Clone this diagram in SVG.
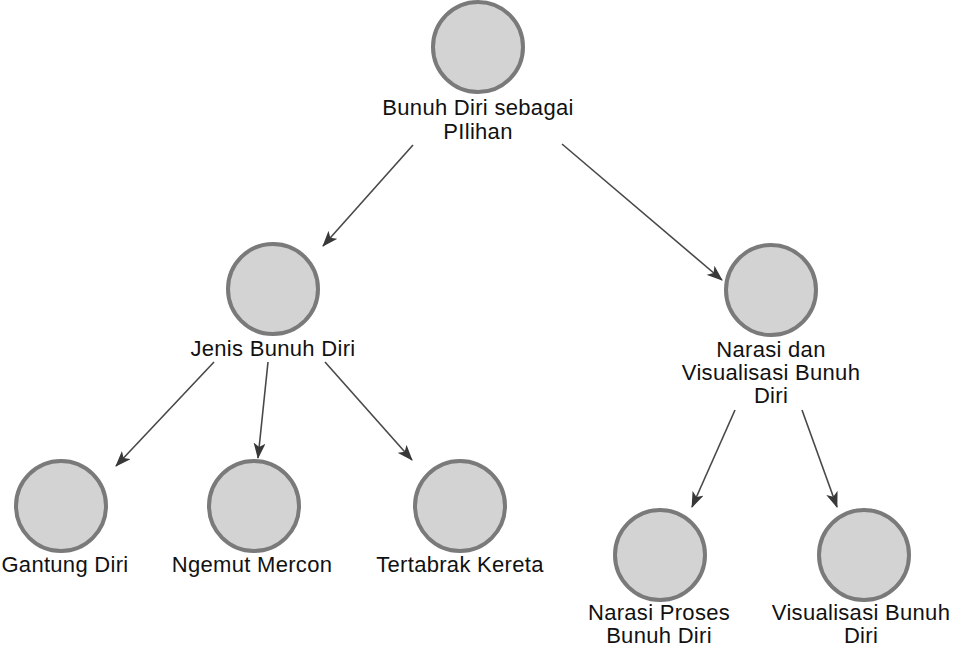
<svg xmlns="http://www.w3.org/2000/svg" width="953" height="650" viewBox="0 0 953 650">
<style>
.n{fill:#d3d3d3;stroke:#7a7a7a;stroke-width:4}
.t{font-family:"Liberation Sans",Arial,sans-serif;font-size:22px;letter-spacing:0.3px;fill:#111;text-anchor:middle}
.e{stroke:#484848;stroke-width:1.6;fill:none;marker-end:url(#a)}
</style>
<defs>
<marker id="a" markerUnits="userSpaceOnUse" viewBox="0 0 16 12" refX="15" refY="6" markerWidth="16" markerHeight="12" orient="auto">
<path d="M0,0 L16,6 L0,12 L4,6 z" fill="#383838"/>
</marker>
</defs>
<rect width="953" height="650" fill="#fff"/>
<g id="edges">
<line class="e" x1="413" y1="145" x2="323" y2="246"/>
<line class="e" x1="562" y1="144" x2="722" y2="280"/>
<line class="e" x1="214" y1="362" x2="116" y2="466"/>
<line class="e" x1="268" y1="362" x2="258" y2="458"/>
<line class="e" x1="325" y1="362" x2="412" y2="460"/>
<line class="e" x1="735" y1="410" x2="692" y2="507"/>
<line class="e" x1="802" y1="410" x2="837" y2="507"/>
</g>
<g id="n1"><circle class="n" cx="478" cy="47" r="45"/><text class="t" x="478" y="115">Bunuh Diri sebagai</text><text class="t" x="478" y="139">PIlihan</text></g>
<g id="n2"><circle class="n" cx="273" cy="289" r="45"/><text class="t" x="273" y="356">Jenis Bunuh Diri</text></g>
<g id="n3"><circle class="n" cx="771" cy="290" r="45"/><text class="t" x="771" y="357">Narasi dan</text><text class="t" x="771" y="380">Visualisasi Bunuh</text><text class="t" x="771" y="403">Diri</text></g>
<g id="n4"><circle class="n" cx="61" cy="506" r="45"/><text class="t" x="65" y="572">Gantung Diri</text></g>
<g id="n5"><circle class="n" cx="254" cy="506" r="45"/><text class="t" x="252" y="572">Ngemut Mercon</text></g>
<g id="n6"><circle class="n" cx="460" cy="506" r="45"/><text class="t" x="460" y="572">Tertabrak Kereta</text></g>
<g id="n7"><circle class="n" cx="660" cy="555" r="45"/><text class="t" x="659" y="620">Narasi Proses</text><text class="t" x="659" y="643">Bunuh Diri</text></g>
<g id="n8"><circle class="n" cx="864" cy="555" r="45"/><text class="t" x="861" y="620">Visualisasi Bunuh</text><text class="t" x="861" y="643">Diri</text></g>
</svg>
